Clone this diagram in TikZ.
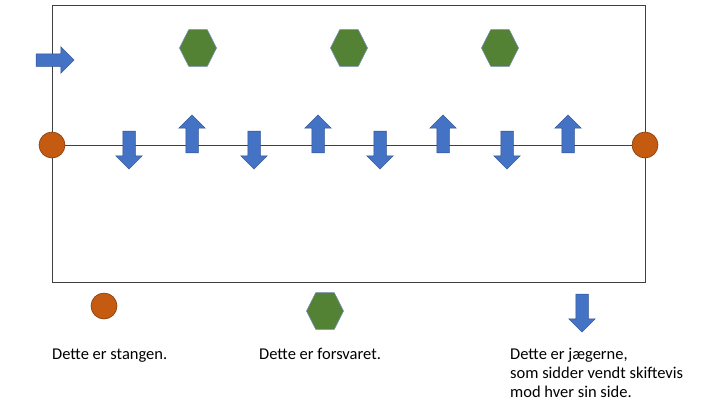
\documentclass[tikz,border=0pt]{standalone}
\usepackage{fontspec}
\setmainfont{Carlito}
\usetikzlibrary{shapes.geometric,shapes.arrows}
\definecolor{jblue}{HTML}{4472C4}
\definecolor{jblueline}{HTML}{2F528F}
\definecolor{sorange}{HTML}{C55A11}
\definecolor{sorangeline}{HTML}{843C0C}
\definecolor{fgreen}{HTML}{548235}
\definecolor{frameline}{HTML}{404040}
\tikzset{
    stang/.style={circle, fill=sorange, draw=sorangeline, line width=0.6pt, minimum size=26pt, inner sep=0pt},
    forsvar/.style={regular polygon, regular polygon sides=6, fill=fgreen, draw=jblueline!70, line width=0.5pt, minimum size=37pt, inner sep=0pt, yscale=1.15},
    jaeger/.style={single arrow, fill=jblue, draw=jblueline, line width=0.5pt, inner sep=6pt, minimum height=38pt, single arrow head extend=7pt},
    tekst/.style={anchor=base west, inner sep=0pt, font=\fontsize{16.5}{19}\selectfont, align=left}
}
\begin{document}
\begin{tikzpicture}[x=1pt, y=-1pt]
                    \useasboundingbox (0,0) rectangle (720,405);
                    % banen
                    \draw[frameline, line width=1pt] (52,5) rectangle (645,282);
                    \node[stang] (stangV) at (52,145) {};
                    \node[stang] (stangH) at (645,145) {};
                    \draw[frameline, line width=1pt] (stangV) -- (stangH);
                    % retning
                    \node[jaeger] (start) at (52,60) {};
                    % forsvaret
                    \node[forsvar] (f1) at (198,48) {};
                    \node[forsvar] (f2) at (349,48) {};
                    \node[forsvar] (f3) at (500,48) {};
                    % jaegerne
                    \node[jaeger, rotate=-90] (j1) at (129,147) {};
                    \node[jaeger, rotate=90] (j2) at (192,137) {};
                    \node[jaeger, rotate=-90] (j3) at (254,147) {};
                    \node[jaeger, rotate=90] (j4) at (318,137) {};
                    \node[jaeger, rotate=-90] (j5) at (380,147) {};
                    \node[jaeger, rotate=90] (j6) at (443,137) {};
                    \node[jaeger, rotate=-90] (j7) at (507,147) {};
                    \node[jaeger, rotate=90] (j8) at (568,137) {};
                    % forklaring
                    \node[stang] (lstang) at (104,306) {};
                    \node[forsvar] (lforsvar) at (325,311) {};
                    \node[jaeger, rotate=-90] (ljaeger) at (582,310) {};
                    \node[tekst] (tstang) at (52,359) {Dette er stangen.};
                    \node[tekst] (tforsvar) at (259,359) {Dette er forsvaret.};
                    \node[tekst] (tjaeger) at (510,397) {Dette er jægerne,\\som sidder vendt skiftevis\\mod hver sin side.};
                \end{tikzpicture}
\end{document}
